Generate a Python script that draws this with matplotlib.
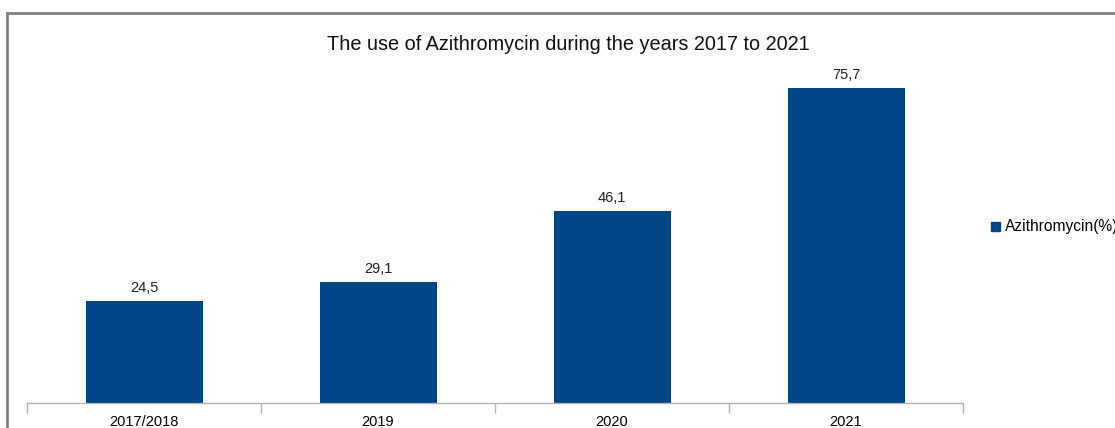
import matplotlib.pyplot as plt
import matplotlib.patches as patches
import numpy as np

plt.rcParams['font.family'] = ['Liberation Sans', 'DejaVu Sans']

#%% data
years = ['2017/2018', '2019', '2020', '2021']
azithro = [24.5, 29.1, 46.1, 75.7]
value_labels = ['24,5', '29,1', '46,1', '75,7']

#%% fig
fig = plt.figure(figsize=(11.15, 4.28), dpi=100)
ax = fig.add_axes([27/1115, 25/428, 936/1115, 333/428])

x = np.arange(len(years))
ax.bar(x, azithro, width=0.5, color='#004586', zorder=2)
for xi, v, lab in zip(x, azithro, value_labels):
    ax.text(xi, v + 1.4, lab, ha='center', va='bottom', fontsize=10.5, color='#222222')

ax.set_xlim(-0.5, len(years) - 0.5)
ax.set_ylim(0, 80)
ax.set_xticks(x)
ax.set_xticklabels(years, fontsize=10.5)
ax.set_xticks(np.arange(-0.5, len(years), 1), minor=True)
ax.tick_params(axis='x', which='major', length=0, pad=9)
ax.tick_params(axis='x', which='minor', length=7, color='#b3b3b3', width=1)
ax.set_yticks([])
for s in ['top', 'right', 'left']:
    ax.spines[s].set_visible(False)
ax.spines['bottom'].set_color('#b3b3b3')
ax.spines['bottom'].set_linewidth(1)

# title
fig.text(568/1115, 1 - 44/428, 'The use of Azithromycin during the years 2017 to 2021',
         ha='center', va='center', fontsize=14.3, color='#111111')

# legend (cut off at right edge)
fig.patches.append(patches.Rectangle((991/1115, 1 - 231/428), 9/1115, 9/428,
                                     transform=fig.transFigure, color='#004586'))
fig.text(1005/1115, 1 - 226/428, 'Azithromycin(%)', ha='left', va='center', fontsize=11.2)

# outer frame
fig.patches.append(patches.Rectangle((7/1115, -0.1), 1.2, 1.1 - 13/428,
                                     transform=fig.transFigure, fill=False,
                                     edgecolor='#808080', linewidth=2))

plt.savefig('out.png', dpi=100, transparent=False)
